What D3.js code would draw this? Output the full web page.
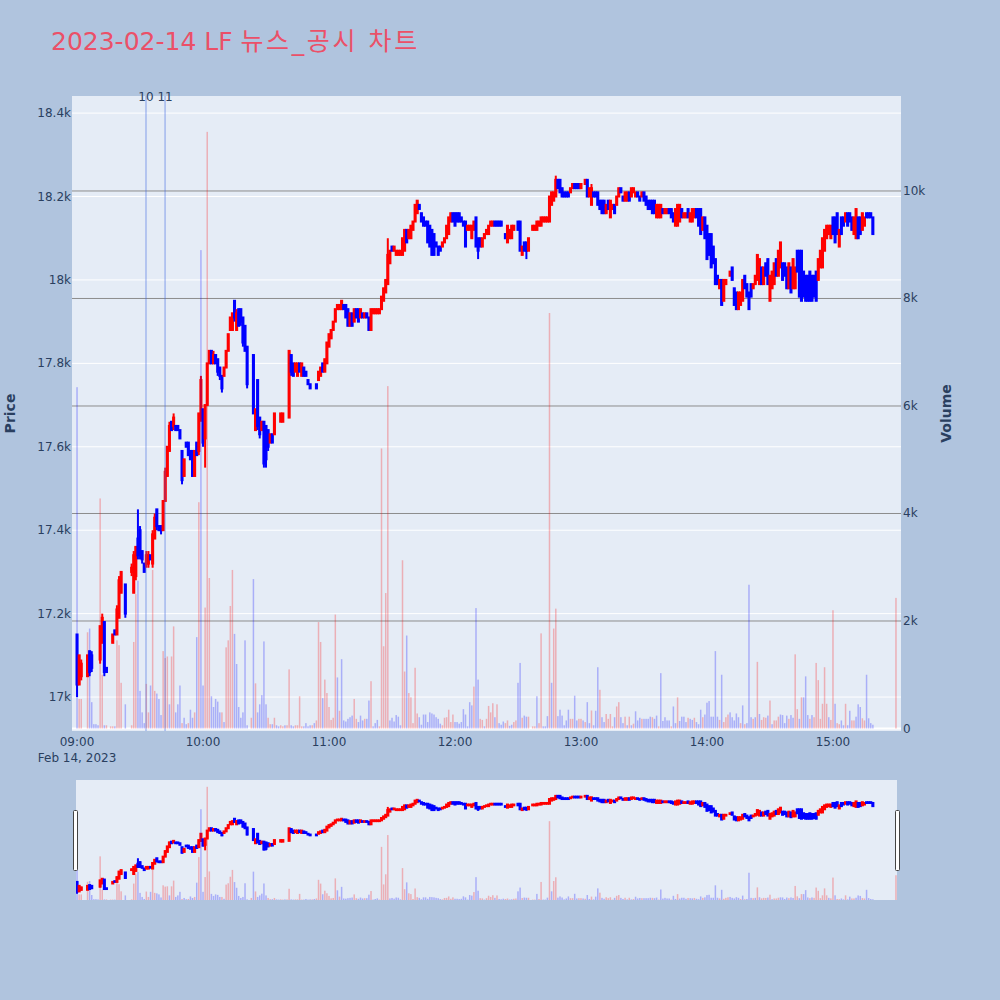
<!DOCTYPE html>
<html>
<head>
<meta charset="utf-8">
<script src="https://cdn.jsdelivr.net/npm/d3@7"></script>
<style>
  body { margin: 0; background: #b0c4de; }
  svg { display: block; }
</style>
</head>
<body>
<div id="chart"></div>
<script>
// one bar per minute from 09:00; null = no trade in that minute
const sessionStart = new Date(2023, 1, 14, 9, 0, 0);

const opens = [
  17150,17030,17050,null,null,17050,17110,17100,17060,17060,
  17060,17090,17130,17180,17070,null,17080,17130,17160,17150,
  17190,17250,null,17270,null,null,17300,17250,17290,17380,
  17400,17350,17320,17320,17320,17340,17320,17380,17450,17410,
  17410,17400,17470,17530,17590,17660,17650,17650,17650,17640,
  17590,17530,17610,17610,17590,17590,17530,17610,17590,17670,
  17690,17620,17700,17800,17830,17800,17820,17810,17790,17770,
  17770,17790,17830,17880,17880,17950,17880,17930,17930,17910,
  17890,17840,null,17830,17820,17640,17760,17670,17640,17660,
  17650,17640,17610,17630,17630,17670,17670,17660,17660,17670,
  17670,17670,17820,17800,17780,17770,17800,17770,17790,17780,
  17760,17750,17740,17740,17750,17760,17770,17800,17780,17800,
  17840,17860,17880,17900,17930,17930,17930,17940,17940,17930,
  17890,17920,17900,17930,17930,17910,17920,17910,17920,17910,
  17880,17920,17920,17920,17920,17930,17950,17970,17990,18040,
  18080,18070,18060,18060,18060,18060,18070,18120,18100,18100,
  18120,18140,18160,18180,18160,18150,18140,18140,18130,18120,
  18110,18090,18080,18080,18080,18090,18100,18110,18140,18160,
  18160,18160,18160,18150,18140,18140,18120,18120,18100,18120,
  18150,18100,18100,18080,18100,18110,18110,18130,18130,18140,
  18140,18140,18140,18120,18110,18090,18100,18100,18120,18120,
  18140,18140,18060,18090,18090,18070,null,18120,18120,18120,
  18130,18130,18140,18140,18140,18140,18180,18190,18200,18240,
  18240,18220,18210,18210,18210,18210,18220,18230,18230,18230,
  18220,18240,18230,18240,18200,18180,18210,18210,18210,18190,
  18190,18190,18160,18190,18150,18170,18180,18180,18200,18220,
  18200,18190,18190,18210,18200,18210,18200,18210,18200,18200,
  18210,18200,18190,18190,18190,18190,18150,18150,18150,18170,
  18160,18160,18170,18170,18160,18130,18130,18140,18170,18150,
  18150,18170,18140,18140,18150,18170,18170,18170,18120,18150,
  18130,18110,18110,18080,18050,18010,17980,18000,17950,17990,
  18000,18010,18030,17980,17970,17930,17940,17950,18010,17990,
  17970,17990,17980,17990,18000,17990,18030,17990,18040,18050,
  17950,17980,17990,18050,18010,18030,18040,18040,18030,17980,
  18030,17980,17980,18070,18070,18070,18020,18010,18010,18020,
  18010,18010,18020,18000,18030,18030,18070,18100,18110,18100,
  18150,18150,18160,18080,18150,18150,18140,18160,18160,18150,
  18110,18100,18150,18150,18120,18130,18160,18160,18160,18150,
  null,null,null,null,null,null,null,null,null,null,
  18150
];

const highs = [
  17150,17100,17090,null,null,17100,17110,17110,17060,17060,
  17060,17170,17200,17180,17070,null,17080,17150,17160,17220,
  17290,17300,null,17270,null,null,17320,17350,17360,17450,
  17410,17350,17320,17350,17350,17340,17400,17440,17450,17410,
  17410,17470,17550,17600,17660,17660,17680,17650,17650,17640,
  17590,17570,17610,17610,17590,17590,17590,17610,17680,17770,
  17690,17700,17800,17830,17830,17830,17820,17810,17790,17770,
  17790,17830,17870,17910,17920,17950,17930,17930,17930,17910,
  17890,17840,null,17830,17820,17690,17760,17670,17660,17660,
  17650,17640,17630,17630,17680,17670,17670,17680,17680,17670,
  17670,17830,17820,17800,17800,17800,17800,17800,17790,17780,
  17760,17750,17740,17740,17750,17780,17790,17800,17810,17850,
  17870,17880,17900,17930,17940,17940,17950,17940,17940,17930,
  17920,17920,17930,17930,17930,17930,17920,17920,17920,17910,
  17930,17930,17930,17930,17930,17960,17980,18000,18100,18070,
  18080,18080,18070,18070,18070,18100,18120,18120,18120,18130,
  18140,18180,18190,18180,18160,18150,18140,18140,18130,18120,
  18110,18090,18080,18080,18090,18100,18130,18150,18160,18160,
  18160,18160,18160,18150,18140,18140,18130,18130,18130,18140,
  18150,18100,18100,18100,18110,18120,18130,18140,18140,18140,
  18140,18140,18140,18120,18110,18130,18120,18130,18130,18120,
  18140,18140,18080,18090,18090,18100,null,18130,18130,18140,
  18140,18150,18150,18150,18150,18200,18210,18210,18250,18240,
  18240,18220,18210,18210,18210,18220,18230,18230,18230,18230,
  18230,18240,18240,18240,18220,18230,18210,18210,18210,18190,
  18190,18190,18180,18190,18190,18180,18180,18200,18220,18220,
  18200,18210,18210,18210,18220,18220,18210,18210,18200,18210,
  18210,18200,18190,18190,18190,18190,18180,18180,18180,18170,
  18170,18170,18170,18170,18160,18170,18180,18180,18170,18160,
  18160,18170,18160,18170,18170,18170,18170,18170,18150,18150,
  18130,18110,18110,18080,18050,18010,18000,18000,18000,18000,
  18000,18020,18030,17980,17970,17970,17970,18000,18010,17990,
  17970,17990,17990,18010,18060,18050,18030,18030,18040,18050,
  18010,18020,18040,18050,18070,18090,18040,18040,18030,18040,
  18030,18050,18030,18070,18070,18070,18020,18010,18010,18020,
  18010,18010,18020,18050,18070,18100,18120,18130,18130,18130,
  18150,18150,18160,18120,18150,18150,18160,18160,18160,18150,
  18150,18170,18150,18150,18160,18150,18160,18160,18160,18150,
  null,null,null,null,null,null,null,null,null,null,
  18150
];

const lows = [
  17000,17030,17040,null,null,17050,17050,17060,17060,17060,
  17060,17080,17130,17050,17060,null,17080,17130,17150,17150,
  17190,17250,null,17190,null,null,17290,17250,17280,17330,
  17330,17320,17300,17310,17310,17330,17310,17380,17400,17400,
  17390,17400,17470,17530,17590,17640,17640,17640,17640,17620,
  17510,17530,17600,17580,17570,17530,17530,17580,17580,17660,
  17600,17550,17700,17800,17800,17800,17800,17770,17760,17730,
  17770,17790,17830,17880,17880,17900,17880,17890,17890,17840,
  17830,17740,null,17830,17680,17640,17640,17620,17640,17550,
  17550,17590,17610,17610,17630,17670,17670,17660,17660,17670,
  17670,17670,17770,17770,17780,17770,17780,17770,17770,17770,
  17750,17740,17740,17740,17740,17760,17770,17780,17780,17800,
  17840,17860,17880,17900,17930,17930,17930,17930,17910,17890,
  17890,17890,17900,17910,17900,17910,17910,17910,17910,17880,
  17880,17920,17920,17920,17920,17930,17950,17970,17990,18040,
  18070,18070,18060,18060,18060,18060,18070,18090,18100,18100,
  18120,18140,18160,18170,18140,18130,18130,18090,18080,18060,
  18060,18080,18060,18070,18080,18090,18100,18110,18140,18140,
  18130,18140,18140,18140,18130,18080,18120,18120,18100,18120,
  18080,18050,18080,18080,18100,18110,18110,18130,18130,18130,
  18130,18130,18130,18120,18100,18090,18100,18100,18120,18120,
  18120,18070,18060,18070,18050,18070,null,18120,18120,18120,
  18130,18130,18140,18140,18140,18140,18180,18190,18200,18220,
  18210,18200,18200,18200,18200,18210,18220,18220,18220,18220,
  18220,18240,18230,18200,18200,18180,18200,18200,18180,18170,
  18160,18160,18160,18170,18150,18170,18160,18180,18200,18210,
  18190,18190,18190,18190,18200,18210,18200,18200,18190,18200,
  18190,18180,18170,18170,18160,18160,18150,18150,18150,18160,
  18160,18160,18160,18150,18140,18130,18130,18140,18150,18150,
  18150,18150,18140,18140,18150,18150,18130,18110,18120,18100,
  18050,18060,18030,18040,17990,17990,17980,17940,17950,17990,
  18000,18010,18000,17940,17930,17930,17940,17950,17980,17960,
  17930,17960,17980,17990,18000,17990,17990,17990,18010,17990,
  17950,17980,17990,18010,18010,18030,18000,18010,17980,17980,
  17970,17980,17980,18020,17960,17950,17960,17950,17950,17950,
  17950,17960,17950,18000,18030,18030,18070,18100,18110,18100,
  18110,18090,18110,18080,18110,18130,18140,18130,18140,18120,
  18110,18100,18100,18110,18120,18130,18150,18150,18150,18110,
  null,null,null,null,null,null,null,null,null,null,
  18150
];

const closes = [
  17030,17100,17080,null,null,17100,17060,17070,17060,17060,
  17060,17170,17190,17060,17060,null,17080,17150,17150,17210,
  17280,17300,null,17200,null,null,17310,17340,17360,17340,
  17340,17330,17300,17340,17340,17330,17390,17430,17410,17400,
  17400,17470,17540,17600,17650,17640,17670,17640,17640,17620,
  17520,17570,17600,17580,17570,17530,17590,17580,17680,17760,
  17610,17700,17800,17830,17800,17820,17800,17780,17770,17740,
  17790,17830,17870,17910,17920,17910,17920,17890,17900,17850,
  17830,17750,null,17830,17680,17690,17650,17630,17660,17560,
  17570,17600,17630,17610,17680,17670,17670,17680,17680,17670,
  17670,17830,17780,17770,17800,17800,17780,17800,17770,17770,
  17750,17740,17740,17740,17740,17780,17790,17780,17810,17850,
  17870,17880,17900,17930,17940,17940,17950,17930,17910,17890,
  17920,17890,17930,17910,17900,17930,17910,17920,17910,17880,
  17930,17930,17930,17930,17930,17960,17980,18000,18060,18070,
  18070,18080,18070,18070,18070,18100,18120,18090,18120,18130,
  18140,18180,18190,18170,18140,18130,18130,18090,18080,18060,
  18060,18080,18060,18070,18090,18100,18130,18150,18160,18140,
  18130,18140,18140,18140,18130,18080,18130,18130,18130,18140,
  18080,18070,18080,18100,18110,18120,18130,18140,18140,18130,
  18130,18130,18130,18120,18100,18130,18120,18130,18130,18120,
  18120,18070,18080,18070,18070,18100,null,18130,18130,18140,
  18140,18150,18150,18150,18150,18200,18210,18210,18240,18220,
  18210,18200,18200,18200,18200,18220,18230,18220,18220,18220,
  18230,18240,18240,18200,18220,18220,18200,18200,18180,18170,
  18160,18160,18180,18170,18190,18180,18160,18200,18220,18210,
  18190,18210,18210,18190,18220,18220,18210,18200,18190,18210,
  18190,18180,18170,18170,18160,18160,18180,18180,18180,18160,
  18170,18170,18160,18150,18140,18170,18180,18180,18150,18160,
  18160,18150,18160,18170,18170,18150,18130,18110,18150,18100,
  18050,18060,18030,18040,17990,17990,18000,17940,18000,18000,
  18000,18020,18000,17940,17930,17970,17970,18000,17980,17960,
  17930,17960,17990,18010,18060,18050,17990,18030,18010,17990,
  18010,18020,18040,18010,18070,18090,18000,18010,17980,18040,
  17970,18050,18030,18020,17960,17950,17960,17950,17950,17950,
  17950,17960,17950,18050,18070,18100,18120,18130,18130,18130,
  18110,18090,18110,18120,18110,18130,18160,18130,18140,18120,
  18150,18170,18100,18110,18160,18150,18150,18150,18150,18110,
  null,null,null,null,null,null,null,null,null,null,
  18150
];

const volumes = [
  6350,550,550,0,0,1790,1860,490,80,80,
  60,4280,1000,60,60,0,40,40,40,1640,
  1550,850,0,450,0,0,60,1610,2500,2750,
  700,300,100,830,300,800,2950,700,650,550,
  250,1440,1310,1340,450,1340,1900,300,450,800,
  100,200,80,100,350,200,300,1700,4210,8900,
  800,2250,11100,2800,600,400,550,500,300,300,
  120,1510,1640,2280,2950,1760,1200,400,200,300,
  1640,60,0,200,2780,840,300,450,620,1620,
  450,200,80,80,200,60,40,60,40,60,
  60,1100,60,40,60,60,600,40,40,100,
  40,60,60,100,150,1980,1610,565,910,660,
  400,160,200,2120,950,330,1290,150,130,180,
  210,240,550,180,120,240,150,180,180,520,
  880,40,100,160,40,5210,1530,2520,6370,150,
  200,130,250,220,60,3130,1060,1730,660,580,
  100,1130,280,210,70,260,260,120,300,280,
  260,210,180,90,60,200,210,350,120,260,
  120,120,90,120,360,260,40,490,430,780,
  2240,910,180,160,40,180,420,300,470,210,
  450,100,70,130,100,150,50,70,120,150,
  850,1220,200,240,220,220,0,40,40,600,
  100,1770,40,40,230,7730,850,1860,2230,230,
  350,240,60,150,350,180,180,610,150,180,
  180,150,120,490,100,335,60,330,1140,720,
  210,120,270,180,270,40,210,410,490,210,
  100,220,60,220,60,90,320,150,200,180,
  180,180,180,220,210,180,240,40,1030,140,
  210,150,150,40,410,100,580,140,220,220,
  120,200,180,160,200,120,80,350,210,260,
  480,510,220,220,1440,220,160,1000,120,210,
  260,300,210,150,280,210,100,430,80,100,
  2675,210,180,210,1240,270,160,210,200,240,
  520,80,150,150,220,260,250,100,240,180,
  250,200,1380,360,180,580,580,970,250,180,
  250,210,1220,900,180,460,1140,460,210,160,
  2200,460,100,80,150,60,460,60,330,150,
  150,220,450,400,190,150,1000,190,100,70,
  0,0,0,0,0,0,0,0,0,0,
  2430
];

// 1 = buy-side (red) volume, 0 = sell-side (blue) volume
const volumeSides = [
  0,1,1,0,0,1,0,0,0,0,
  0,1,1,0,1,0,1,1,0,1,
  1,1,0,0,0,0,1,1,1,0,
  0,0,0,1,1,0,1,1,0,0,
  0,1,1,1,0,1,1,0,0,0,
  1,0,0,1,0,0,1,0,1,0,
  0,1,1,1,0,0,0,0,0,1,
  0,1,1,1,1,0,0,0,0,0,
  0,0,0,1,0,1,0,0,0,0,
  0,1,1,0,1,0,0,1,1,0,
  1,1,0,0,1,1,1,1,0,0,
  0,0,1,0,1,1,1,0,1,1,
  1,1,1,1,0,1,0,0,0,0,
  0,0,1,1,0,0,0,1,0,0,
  1,0,0,0,1,1,1,1,1,0,
  0,0,0,0,0,1,1,0,1,1,
  1,1,1,0,0,0,0,0,0,0,
  0,0,0,0,1,1,1,1,1,1,
  0,0,0,0,0,0,0,0,0,1,
  0,0,1,1,0,1,1,1,1,0,
  1,0,0,0,1,1,0,0,1,1,
  0,0,1,0,0,1,0,1,1,0,
  1,1,0,0,0,1,0,1,1,0,
  0,0,0,0,0,1,1,0,0,1,
  1,0,1,0,0,1,0,0,0,1,
  0,0,1,1,1,1,0,1,1,0,
  0,1,0,1,0,1,0,0,0,1,
  0,0,0,0,1,0,0,1,0,0,
  0,0,0,1,0,0,1,0,0,0,
  0,1,0,0,1,0,0,0,1,0,
  0,0,0,0,0,0,1,0,1,1,
  1,0,0,0,0,0,1,0,1,0,
  0,0,1,0,1,0,1,1,1,0,
  1,0,1,1,1,0,0,0,0,1,
  0,0,1,1,0,1,0,0,0,1,
  0,1,1,1,1,1,1,1,0,1,
  1,0,1,1,0,0,1,0,0,1,
  1,0,0,0,1,1,0,0,0,0,
  0,0,0,0,0,0,0,0,0,0,
  1
];

const priceTicks = [17000, 17200, 17400, 17600, 17800, 18000, 18200, 18400];
const volumeTicks = [0, 2000, 4000, 6000, 8000, 10000];
const hourTicks = ["09:00", "10:00", "11:00", "12:00", "13:00", "14:00", "15:00"];
const newsTimes = ["09:32:50", "09:41:55"];
const newsLabels = ["10", "11"];
const titleLatin = "2023-02-14 LF ";
const titleKorean = "뉴스_공시 차트";

const lens = [opens, highs, lows, closes, volumes, volumeSides].map((a) => a.length);
if (new Set(lens).size !== 1) throw new Error("length mismatch " + lens.join(","));

const width = 1000;
const height = 1000;
const plot = { left: 72, right: 901, top: 96, bottom: 731 };
const slider = { left: 76, right: 897, top: 780, bottom: 900 };
const upColor = "#ff0000";
const downColor = "#0000ff";
const font = "'DejaVu Sans', 'Noto Sans CJK KR', sans-serif";
const tickColor = "#2a3f5f";

const parseClock = (s) => {
  const [h, m, sec] = s.split(":").map(Number);
  return new Date(2023, 1, 14, h, m, sec || 0);
};

// build bar records and decide candle direction (ties use previous close)
const bars = opens.map((o, i) => ({
  t: d3.timeMinute.offset(sessionStart, i),
  o, h: highs[i], l: lows[i], c: closes[i],
  v: volumes[i], side: volumeSides[i],
}));
let prevClose = null;
let prevDir = 1;
bars.forEach((b) => {
  if (b.o == null) return;
  let dir;
  if (b.c > b.o) dir = 1;
  else if (b.c < b.o) dir = -1;
  else if (prevClose == null || b.c === prevClose) dir = prevDir;
  else dir = b.c > prevClose ? 1 : -1;
  b.dir = dir;
  prevDir = dir;
  prevClose = b.c;
});
const candles = bars.filter((b) => b.o != null);
const volBars = bars.filter((b) => b.v > 0);

// Scales
const x = d3
  .scaleTime()
  .domain([d3.timeSecond.offset(sessionStart, -144), d3.timeSecond.offset(sessionStart, 390 * 60 + 144)])
  .range([plot.left, plot.right]);
const yPrice = d3.scaleLinear().domain([16921, 18441]).range([730, plot.top]);
const yVol = d3.scaleLinear().domain([0, 11767]).range([728.5, plot.top]);
const ySlidePrice = d3.scaleLinear().domain([16921, 18441]).range([slider.bottom, slider.top]);
const ySlideVol = d3.scaleLinear().domain([0, 11767]).range([slider.bottom, slider.top]);

const bodyW = 1.05;
const barW = 1.5;
const fmt = d3.format("~s");

const svg = d3
  .select("#chart")
  .append("svg")
  .attr("width", width)
  .attr("height", height)
  .attr("viewBox", `0 0 ${width} ${height}`)
  .style("font-family", font);

svg.append("rect").attr("width", width).attr("height", height).attr("fill", "#b0c4de");

const defs = svg.append("defs");
defs.append("clipPath").attr("id", "clip-main")
  .append("rect").attr("x", plot.left).attr("y", plot.top)
  .attr("width", plot.right - plot.left).attr("height", plot.bottom - plot.top);
defs.append("clipPath").attr("id", "clip-slider")
  .append("rect").attr("x", slider.left).attr("y", slider.top)
  .attr("width", slider.right - slider.left).attr("height", slider.bottom - slider.top);

// Title
const title = svg.append("text")
  .attr("x", 51)
  .attr("y", 50)
  .attr("fill", "#eb5068")
  .attr("font-size", "25px");
title.append("tspan").text(titleLatin);
title.append("tspan").attr("letter-spacing", "2.6px").text(titleKorean);

// Plot background
svg.append("rect")
  .attr("x", plot.left).attr("y", plot.top)
  .attr("width", plot.right - plot.left).attr("height", plot.bottom - plot.top)
  .attr("fill", "#e5ecf6");

// price grid (white) and volume grid (gray)
svg.append("g").selectAll("line").data(priceTicks).join("line")
  .attr("x1", plot.left).attr("x2", plot.right)
  .attr("y1", (d) => yPrice(d)).attr("y2", (d) => yPrice(d))
  .attr("stroke", "#ffffff").attr("stroke-width", 1);

svg.append("g").selectAll("line").data(volumeTicks.filter((d) => d > 0)).join("line")
  .attr("x1", plot.left).attr("x2", plot.right)
  .attr("y1", (d) => yVol(d)).attr("y2", (d) => yVol(d))
  .attr("stroke", "#8c8c8c").attr("stroke-width", 1);

svg.append("line")
  .attr("x1", plot.left).attr("x2", plot.right)
  .attr("y1", yVol(0)).attr("y2", yVol(0))
  .attr("stroke", "#ffffff").attr("stroke-width", 2);

// draw candles + volume into a group with given y scales
function drawSeries(g, yP, yV) {
  const cg = g.append("g");
  const candle = cg.selectAll("g").data(candles).join("g")
    .attr("stroke", (d) => (d.dir > 0 ? upColor : downColor))
    .attr("fill", (d) => (d.dir > 0 ? upColor : downColor));
  candle.append("line")
    .attr("x1", (d) => x(d.t)).attr("x2", (d) => x(d.t))
    .attr("y1", (d) => yP(d.h)).attr("y2", (d) => yP(d.l))
    .attr("stroke-width", 2);
  candle.append("rect")
    .attr("x", (d) => x(d.t) - bodyW / 2)
    .attr("width", bodyW)
    .attr("y", (d) => yP(Math.max(d.o, d.c)))
    .attr("height", (d) => Math.abs(yP(d.o) - yP(d.c)))
    .attr("stroke-width", 2);

  g.append("g").selectAll("rect").data(volBars).join("rect")
    .attr("x", (d) => x(d.t) - barW / 2)
    .attr("width", barW)
    .attr("y", (d) => yV(d.v))
    .attr("height", (d) => yV(0) - yV(d.v))
    .attr("fill", (d) => (d.side ? upColor : downColor))
    .attr("fill-opacity", 0.26);
}

const mainG = svg.append("g").attr("clip-path", "url(#clip-main)");
drawSeries(mainG, yPrice, yVol);

// news markers
const news = newsTimes.map((t, i) => ({ t: parseClock(t), label: newsLabels[i] }));
svg.append("g").selectAll("line").data(news).join("line")
  .attr("x1", (d) => x(d.t)).attr("x2", (d) => x(d.t))
  .attr("y1", plot.top).attr("y2", plot.bottom)
  .attr("stroke", "rgba(65,105,225,0.4)").attr("stroke-width", 1.5);
svg.append("g").selectAll("text").data(news).join("text")
  .attr("x", (d) => x(d.t)).attr("y", plot.top + 1)
  .attr("text-anchor", "middle").attr("dominant-baseline", "middle")
  .attr("fill", tickColor).attr("font-size", "12px")
  .text((d) => d.label);

// axes labels
svg.append("g").selectAll("text").data(priceTicks).join("text")
  .attr("x", plot.left - 1).attr("y", (d) => yPrice(d))
  .attr("text-anchor", "end").attr("dominant-baseline", "central")
  .attr("fill", tickColor).attr("font-size", "12px")
  .text((d) => fmt(d));

svg.append("g").selectAll("text").data(volumeTicks).join("text")
  .attr("x", plot.right + 2).attr("y", (d) => yVol(d))
  .attr("text-anchor", "start").attr("dominant-baseline", "central")
  .attr("fill", tickColor).attr("font-size", "12px")
  .text((d) => fmt(d));

svg.append("g").selectAll("text").data(hourTicks).join("text")
  .attr("x", (d) => x(parseClock(d))).attr("y", 742)
  .attr("text-anchor", "middle").attr("dominant-baseline", "central")
  .attr("fill", tickColor).attr("font-size", "12px")
  .text((d) => d);

svg.append("text")
  .attr("x", x(sessionStart)).attr("y", 757.5)
  .attr("text-anchor", "middle").attr("dominant-baseline", "central")
  .attr("fill", tickColor).attr("font-size", "12px")
  .text(d3.timeFormat("%b %-d, %Y")(sessionStart));

svg.append("text")
  .attr("transform", `translate(10, ${(plot.top + plot.bottom) / 2}) rotate(-90)`)
  .attr("text-anchor", "middle").attr("dominant-baseline", "central")
  .attr("fill", tickColor).attr("font-size", "14px").attr("font-weight", "bold")
  .text("Price");

svg.append("text")
  .attr("transform", `translate(946, ${(plot.top + plot.bottom) / 2}) rotate(-90)`)
  .attr("text-anchor", "middle").attr("dominant-baseline", "central")
  .attr("fill", tickColor).attr("font-size", "14px").attr("font-weight", "bold")
  .text("Volume");

// Range slider
svg.append("rect")
  .attr("x", slider.left).attr("y", slider.top)
  .attr("width", slider.right - slider.left).attr("height", slider.bottom - slider.top)
  .attr("fill", "#e5ecf6");
const slideG = svg.append("g").attr("clip-path", "url(#clip-slider)");
drawSeries(slideG, ySlidePrice, ySlideVol);

[slider.left - 2.5, slider.right - 1.5].forEach((gx) => {
  svg.append("rect")
    .attr("x", gx).attr("y", 810.5)
    .attr("width", 4).attr("height", 60)
    .attr("rx", 1)
    .attr("fill", "#ffffff").attr("stroke", "#444").attr("stroke-width", 1);
});
</script>
</body>
</html>
